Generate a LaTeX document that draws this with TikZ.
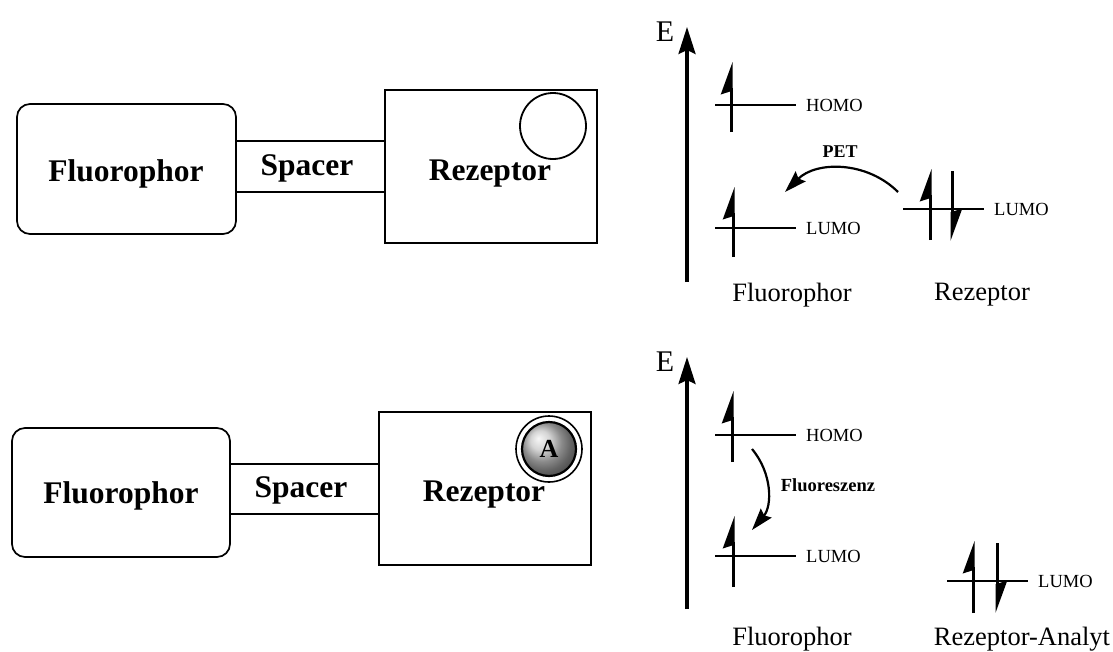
\documentclass[tikz,border=0pt]{standalone}
\usepackage{fontspec}
\setmainfont{Liberation Serif}
\usetikzlibrary{arrows.meta}

\begin{document}
\begin{tikzpicture}[
        x=1pt, y=-1pt,
        every node/.append style={inner sep=0pt}
    ]
    \tikzstyle{part}=[draw,line width=1.7pt];
    \tikzstyle{fluo}=[part,rounded corners=13pt];
    \tikzstyle{big}=[font=\fontsize{31.5}{36}\selectfont\bfseries];
    \tikzstyle{lvl}=[line width=2.4pt,shorten >=10pt];
    \tikzstyle{spin}=[line width=3pt,-{Stealth[harpoon,length=28pt,width=20pt,inset=3pt]}];
    \tikzstyle{orb}=[font=\fontsize{18.5}{22}\selectfont,anchor=west];
    \tikzstyle{mol}=[font=\fontsize{26.5}{30}\selectfont];
    \tikzstyle{eaxis}=[line width=3.2pt,-{Stealth[length=27pt,width=17pt,inset=4pt]}];
    \tikzstyle{trans}=[line width=2.2pt,-{Stealth[length=22pt,width=14pt,inset=3pt]}];
    \useasboundingbox (0,0) rectangle (1113,651);
    % top molecule
    \node[fluo,minimum width=219,minimum height=130] (fl1) at (126.5,169) {};
    \node[part,minimum width=149,minimum height=51] (sp1) at (310.5,166.5) {};
    \node[part,minimum width=212,minimum height=153] (re1) at (491,166.5) {};
    \node[part,circle,line width=1.8pt,minimum size=66] (site1) at (553,126) {};
    \node[big] (tfl1) at (126,174) {Fluorophor};
    \node[big] (tsp1) at (307,168) {Spacer};
    \node[big] (tre1) at (490,174) {Rezeptor};
    % bottom molecule
    \node[fluo,minimum width=218,minimum height=129] (fl2) at (121,492.5) {};
    \node[part,minimum width=149,minimum height=50] (sp2) at (304.5,489) {};
    \node[part,minimum width=212,minimum height=153] (re2) at (485,488.5) {};
    \node[draw,circle,line width=1.6pt,minimum size=66] (ring) at (549,449) {};
    \node[draw,circle,line width=2.2pt,minimum size=54,ball color=gray!45,
        font=\fontsize{26}{30}\selectfont\bfseries] (ana) at (549,449) {A};
    \node[big] (tfl2) at (121,496) {Fluorophor};
    \node[big] (tsp2) at (301,490) {Spacer};
    \node[big] (tre2) at (484,495) {Rezeptor};
    % top energy diagram
    \node (e1) at (665,32) {\fontsize{30}{34}\selectfont E};
    \coordinate (ax1) at (687,282);
    \coordinate (ay1) at (687,27);
    \draw[eaxis] (ax1) -- (ay1);
    \node[orb] (ho1) at (806,105) {HOMO};
    \node[orb] (lu1) at (806,228) {LUMO};
    \node[orb] (lu2) at (994,209) {LUMO};
    \draw[lvl] (715,105) -- (ho1.west);
    \draw[lvl] (715,228) -- (lu1.west);
    \draw[lvl] (903,209) -- (lu2.west);
    \draw[spin] (731,132) -- (731,62);
    \draw[spin] (733,257) -- (733,187);
    \draw[spin] (930,240) -- (930,169);
    \draw[spin] (952,171) -- (952,241);
    \node[font=\fontsize{18}{20}\selectfont\bfseries] (pet) at (840,152) {PET};
    \coordinate (pa) at (898,192);
    \coordinate (pb) at (785,192);
    \draw[trans] (pa) to[bend right=45] (pb);
    \node[mol] (mf1) at (792,295) {Fluorophor};
    \node[mol] (mr1) at (982,295) {Rezeptor};
    % bottom energy diagram
    \node (e2) at (665,362) {\fontsize{30}{34}\selectfont E};
    \coordinate (ax2) at (687,609);
    \coordinate (ay2) at (687,357);
    \draw[eaxis] (ax2) -- (ay2);
    \node[orb] (ho3) at (806,435) {HOMO};
    \node[orb] (lu3) at (806,556) {LUMO};
    \node[orb] (lu4) at (1038,581) {LUMO};
    \draw[lvl] (715,435) -- (ho3.west);
    \draw[lvl] (715,556) -- (lu3.west);
    \draw[lvl] (947,581) -- (lu4.west);
    \draw[spin] (732,462) -- (732,391);
    \draw[spin] (733,587) -- (733,516);
    \draw[spin] (973,613) -- (973,541);
    \draw[spin] (997,543) -- (997,613);
    \node[font=\fontsize{18.5}{20}\selectfont\bfseries] (flu) at (828,485) {Fluoreszenz};
    \coordinate (fa) at (752,449);
    \coordinate (fb) at (752,530);
    \draw[trans] (fa) to[bend left=40] (fb);
    \node[mol] (mf2) at (792,639) {Fluorophor};
    \node[mol] (mr2) at (1022,639) {Rezeptor-Analyt};
\end{tikzpicture}
\end{document}
